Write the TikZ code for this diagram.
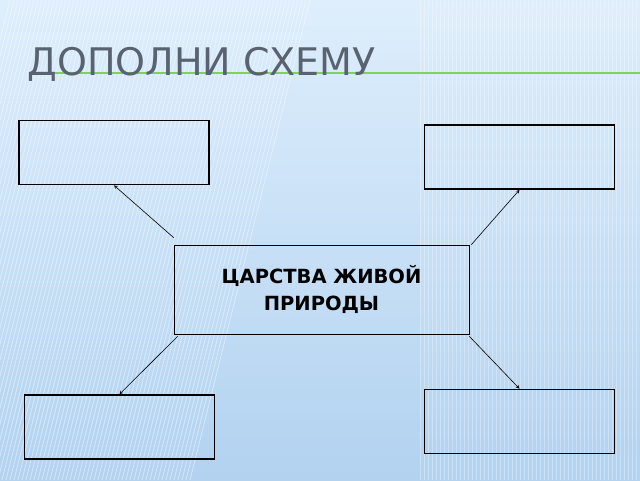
\documentclass[tikz,border=0pt]{standalone}
\usepackage{fontspec}
\setmainfont{DejaVu Sans}
\usetikzlibrary{calc}
\definecolor{bgtop}{RGB}{222,238,252}
\definecolor{bgbot}{RGB}{178,210,240}
\definecolor{titlegray}{RGB}{88,98,112}
\definecolor{rulegreen}{RGB}{132,208,90}
\begin{document}
\begin{tikzpicture}[x=1pt,y=-1pt]
    \tikzstyle{slot}  = [draw=black,line width=1.6pt,minimum width=190pt,minimum height=64pt,inner sep=0pt]
    \tikzstyle{dedge} = [->,>=stealth,draw=black,semithick]
    \useasboundingbox (0,0) rectangle (640,480);
    % background
    \shade[top color=bgtop,bottom color=bgbot] (0,0) rectangle (640,480);
    \foreach \s in {0,4,...,300}
      \draw[white,opacity=0.45,line width=0.8pt] (\s-110,480) -- (\s+10,0);
    \foreach \s in {420,424,...,640}
      \draw[white,opacity=0.3,line width=0.8pt] (\s,480) -- (\s,0);
    \draw[rulegreen,line width=1.5pt] (40,73) -- (640,73);
    \node[anchor=west,text=titlegray,font=\fontsize{38}{38}\selectfont] (title) at (24,64) {ДОПОЛНИ СХЕМУ};
    
    \node[draw=black,semithick,minimum width=295pt,minimum height=89pt,align=center,
          font=\bfseries\fontsize{19.5}{27}\selectfont] (king) at (321.5,289.5) {ЦАРСТВА ЖИВОЙ\\ПРИРОДЫ};
    \node[slot] (tl) at (114,152.5) {};
    \node[slot] (tr) at (519.5,157) {};
    \node[slot] (bl) at (119.5,427) {};
    \node[slot] (br) at (519.5,421.5) {};
    
    \draw[dedge] ($(king.north west)+(0,-7)$) -- (tl.south);
    \draw[dedge] ($(king.north east)+(2,0)$) -- (tr.south);
    \draw[dedge] ($(king.south west)+(4,2)$) -- (bl.north);
    \draw[dedge] ($(king.south east)+(0,2)$) -- (br.north);
  \end{tikzpicture}
\end{document}
